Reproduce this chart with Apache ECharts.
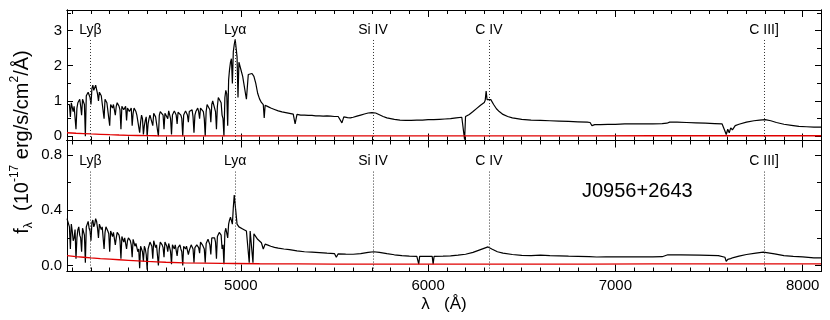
<!DOCTYPE html>
<html>
<head>
<meta charset="utf-8">
<style>
  html, body { margin: 0; padding: 0; background: #fff; }
  .chart { width: 830px; height: 320px; }
</style>
</head>
<body>
<div class="chart"></div>
<script src="https://cdn.jsdelivr.net/npm/echarts@6.0.0/dist/echarts.min.js"></script>
<script>
// Lyman forest part, wavelength grid (Å)
var forestWave = [4072, 4080, 4090, 4100, 4110, 4120, 4130, 4140, 4150, 4160,
  4170, 4180, 4190, 4200, 4210, 4220, 4230, 4240, 4250, 4260,
  4270, 4280, 4290, 4300, 4310, 4320, 4330, 4340, 4350, 4360,
  4370, 4380, 4390, 4400, 4410, 4420, 4430, 4440, 4450, 4460,
  4470, 4480, 4490, 4500, 4510, 4520, 4530, 4540, 4550, 4560,
  4570, 4580, 4590, 4600, 4610, 4620, 4630, 4640, 4650, 4660,
  4670, 4680, 4690, 4700, 4710, 4720, 4730, 4740, 4750, 4760,
  4770, 4780, 4790, 4800, 4810, 4820, 4830, 4840, 4850, 4860,
  4870, 4880, 4890, 4900, 4910, 4920, 4930, 4940, 4950];
var topForest = [0.9, 0.95, 0.55, 1.0, 0.85, 0.2, 0.95, 1.05, 0.6, 1.1,
  0.0, 1.2, 1.3, 0.9, 1.45, 1.35, 1.4, 1.0, 1.3, 1.2,
  0.5, 1.1, 1.0, 0.3, 0.95, 0.9, 0.6, 0.95, 0.85, 0.2,
  0.9, 0.8, 0.45, 0.85, 0.75, 0.3, 0.8, 0.7, 0.55, 0.1,
  0.6, 0.05, 0.45, 0.0, 0.5, 0.65, 0.3, 0.7, 0.6, 0.0,
  0.7, 0.65, 0.2, 0.7, 0.5, 0.7, 0.05, 0.65, 0.7, 0.35,
  0.7, 0.6, 0.0, 0.65, 0.7, 0.4, 0.65, 0.75, 0.1, 0.7,
  0.8, 0.5, 0.85, 0.7, 0.0, 0.9, 0.85, 0.4, 1.0, 0.95,
  0.2, 1.1, 1.05, 0.6, 0.0, 1.3, 0.3, 1.9, 2.2];
var botForest = [0.34, 0.35, 0.12, 0.25, 0.2, 0.05, 0.26, 0.22, 0.1, 0.28,
  0.02, 0.3, 0.27, 0.18, 0.33, 0.3, 0.32, 0.2, 0.3, 0.28,
  0.12, 0.28, 0.25, 0.1, 0.26, 0.24, 0.15, 0.24, 0.22, 0.05,
  0.22, 0.2, 0.12, 0.2, 0.18, 0.06, 0.18, 0.16, 0.1, -0.02,
  0.15, 0.03, 0.12, -0.03, 0.13, 0.16, 0.05, 0.17, 0.15, 0.0,
  0.17, 0.15, 0.06, 0.16, 0.1, 0.15, 0.01, 0.14, 0.15, 0.07,
  0.14, 0.12, 0.0, 0.13, 0.14, 0.08, 0.13, 0.14, 0.02, 0.14,
  0.15, 0.09, 0.16, 0.14, 0.02, 0.17, 0.18, 0.08, 0.19, 0.2,
  0.05, 0.22, 0.23, 0.12, 0.01, 0.27, 0.2, 0.33, 0.36];

// forest pixels in between (upper envelope of the forest)
var forestMidWave = [4085, 4095, 4105, 4115, 4125, 4135, 4145, 4155, 4165, 4175,
  4185, 4195, 4205, 4215, 4225, 4235, 4245, 4255, 4265, 4275,
  4285, 4295, 4305, 4315, 4325, 4335, 4345, 4355, 4365, 4375,
  4385, 4395, 4405, 4415, 4425, 4435, 4445, 4455, 4465, 4475,
  4485, 4495, 4505, 4515, 4525, 4535, 4545, 4555, 4565, 4575,
  4585, 4595, 4605, 4615, 4625, 4635, 4645, 4655, 4665, 4675,
  4685, 4695, 4705, 4715, 4725, 4735, 4745, 4755, 4765, 4775,
  4785, 4795, 4805, 4815, 4825, 4835, 4845, 4855, 4865, 4875,
  4885, 4895, 4905, 4915, 4925, 4935, 4945];
var topForestMid = [0.9, 0.95, 0.7, 0.9, 0.8, 1.0, 0.85, 1.05, 0.9, 1.15,
  1.25, 1.1, 1.35, 1.3, 1.45, 1.2, 1.25, 1.15, 1.1, 1.05,
  0.95, 1.0, 0.9, 0.8, 0.95, 0.85, 0.9, 0.75, 0.85, 0.75,
  0.85, 0.8, 0.7, 0.8, 0.65, 0.75, 0.6, 0.65, 0.4, 0.5,
  0.3, 0.55, 0.35, 0.6, 0.55, 0.65, 0.55, 0.5, 0.6, 0.72,
  0.6, 0.65, 0.6, 0.72, 0.5, 0.6, 0.72, 0.6, 0.68, 0.72,
  0.5, 0.6, 0.72, 0.6, 0.7, 0.68, 0.55, 0.6, 0.75, 0.7,
  0.8, 0.75, 0.5, 0.7, 0.95, 0.75, 0.9, 1.0, 0.7, 0.85,
  1.15, 0.95, 0.5, 1.1, 1.2, 1.6, 2.1];
var botForestMid = [0.28, 0.3, 0.18, 0.26, 0.2, 0.28, 0.2, 0.27, 0.22, 0.28,
  0.32, 0.25, 0.31, 0.28, 0.34, 0.27, 0.3, 0.26, 0.27, 0.24,
  0.27, 0.23, 0.25, 0.21, 0.25, 0.2, 0.23, 0.18, 0.21, 0.17,
  0.21, 0.18, 0.2, 0.15, 0.19, 0.14, 0.17, 0.12, 0.14, 0.1,
  0.14, 0.08, 0.12, 0.17, 0.14, 0.18, 0.13, 0.16, 0.12, 0.18,
  0.13, 0.17, 0.14, 0.16, 0.1, 0.15, 0.12, 0.16, 0.13, 0.15,
  0.1, 0.14, 0.12, 0.15, 0.11, 0.15, 0.12, 0.13, 0.15, 0.13,
  0.17, 0.15, 0.12, 0.16, 0.19, 0.15, 0.2, 0.21, 0.17, 0.21,
  0.24, 0.22, 0.15, 0.24, 0.28, 0.3, 0.35];

// redward of the forest, upper panel
var topRestWave = [4955, 4960, 4965, 4970, 4975, 4980, 4985, 4990, 5000, 5010,
  5020, 5030, 5040, 5050, 5060, 5070, 5080, 5090, 5100, 5110,
  5120, 5125, 5130, 5145, 5160, 5180, 5200, 5220, 5240, 5260,
  5280, 5290, 5300, 5320, 5340, 5360, 5380, 5400, 5420, 5440,
  5460, 5480, 5500, 5520, 5540, 5550, 5570, 5585, 5600, 5620,
  5640, 5660, 5680, 5700, 5720, 5740, 5760, 5780, 5800, 5820,
  5850, 5880, 5910, 5940, 5970, 6000, 6030, 6060, 6090, 6120,
  6150, 6180, 6190, 6195, 6200, 6220, 6240, 6260, 6280, 6300,
  6305, 6310, 6315, 6325, 6335, 6350, 6365, 6380, 6400, 6425,
  6450, 6500, 6550, 6600, 6650, 6700, 6750, 6800, 6850, 6865,
  6875, 6890, 6920, 6960, 7000, 7050, 7100, 7150, 7200, 7250,
  7275, 7290, 7330, 7380, 7430, 7480, 7530, 7570, 7585, 7592,
  7600, 7608, 7616, 7625, 7640, 7660, 7700, 7740, 7770, 7800,
  7830, 7860, 7900, 7940, 7980, 8020, 8060, 8098];
var topRestFlux = [1.5, 2.4, 2.6, 2.75, 2.5, 2.25, 1.1, 2.1, 1.9, 1.7,
  1.75, 1.05, 1.75, 1.8, 1.78, 1.7, 1.5, 1.22, 1.06, 0.96,
  0.9, 0.52, 0.88, 0.84, 0.8, 0.76, 0.72, 0.69, 0.67, 0.65,
  0.63, 0.35, 0.62, 0.6, 0.6, 0.59, 0.59, 0.58, 0.58, 0.57,
  0.58, 0.57, 0.56, 0.56, 0.38, 0.55, 0.53, 0.52, 0.54, 0.57,
  0.6, 0.63, 0.66, 0.67, 0.66, 0.61, 0.56, 0.52, 0.5, 0.48,
  0.46, 0.45, 0.45, 0.46, 0.46, 0.47, 0.47, 0.48, 0.49, 0.5,
  0.52, 0.54, 0.55, -0.1, 0.56, 0.62, 0.7, 0.79, 0.88, 0.96,
  1.02, 1.28, 1.04, 1.08, 1.04, 0.9, 0.78, 0.7, 0.62, 0.56,
  0.52, 0.48, 0.46, 0.45, 0.44, 0.43, 0.42, 0.41, 0.4, 0.39,
  0.3, 0.33, 0.33, 0.34, 0.34, 0.35, 0.35, 0.35, 0.35, 0.36,
  0.37, 0.4, 0.4, 0.39, 0.38, 0.37, 0.36, 0.35, 0.15, 0.05,
  0.2, 0.1, 0.24, 0.18, 0.3, 0.34, 0.4, 0.44, 0.46, 0.47,
  0.44, 0.39, 0.34, 0.31, 0.28, 0.27, 0.26, 0.26];

// redward of the forest, lower panel (J0956+2643)
var botRestWave = [4955, 4960, 4965, 4970, 4975, 4980, 4985, 4990, 5000, 5010,
  5020, 5030, 5040, 5045, 5050, 5055, 5060, 5065, 5070, 5080,
  5090, 5100, 5110, 5120, 5130, 5145, 5160, 5180, 5200, 5230,
  5260, 5300, 5340, 5380, 5420, 5460, 5500, 5510, 5520, 5560,
  5600, 5640, 5680, 5710, 5740, 5780, 5820, 5860, 5900, 5940,
  5950, 5955, 6000, 6022, 6027, 6032, 6080, 6120, 6160, 6200,
  6240, 6280, 6320, 6340, 6370, 6400, 6450, 6500, 6550, 6600,
  6650, 6700, 6750, 6800, 6860, 6870, 6900, 6950, 7000, 7100,
  7200, 7250, 7280, 7350, 7450, 7550, 7585, 7592, 7600, 7615,
  7630, 7660, 7700, 7750, 7790, 7850, 7900, 7950, 8000, 8060,
  8098];
var botRestFlux = [0.3, 0.42, 0.51, 0.44, 0.37, 0.3, 0.29, 0.28, 0.27, 0.265,
  0.26, 0.25, 0.25, 0.02, 0.25, 0.26, 0.25, 0.02, 0.23, 0.21,
  0.19, 0.18, 0.165, 0.12, 0.155, 0.148, 0.14, 0.132, 0.126, 0.12,
  0.115, 0.106, 0.1, 0.097, 0.094, 0.09, 0.087, 0.06, 0.085, 0.083,
  0.082, 0.086, 0.095, 0.1, 0.095, 0.086, 0.078, 0.072, 0.068, 0.066,
  0.01, 0.066, 0.066, 0.066, 0.01, 0.066, 0.068, 0.07, 0.075, 0.082,
  0.095, 0.115, 0.135, 0.12, 0.1, 0.09, 0.08, 0.073, 0.072, 0.075,
  0.072, 0.07, 0.068, 0.067, 0.065, 0.056, 0.062, 0.063, 0.063, 0.063,
  0.063, 0.064, 0.078, 0.078, 0.076, 0.072, 0.06, 0.03, 0.045, 0.05,
  0.058, 0.068, 0.08, 0.09, 0.097, 0.085, 0.072, 0.067, 0.063, 0.056,
  0.055];

// error spectra (red)
var errWave = [4072, 4120, 4160, 4200, 4250, 4300, 4350, 4400, 4450, 4500,
  4550, 4600, 4700, 4800, 4900, 4965, 4970, 4975, 5100, 5300,
  5500, 5570, 5575, 5580, 5800, 6000, 6200, 6305, 6310, 6315,
  6600, 6860, 7200, 7600, 8098];
var errTop = [0.1, 0.085, 0.075, 0.065, 0.055, 0.045, 0.036, 0.028, 0.022, 0.017,
  0.014, 0.012, 0.01, 0.01, 0.01, 0.01, 0.03, 0.01, 0.01, 0.01,
  0.01, 0.01, 0.06, 0.01, 0.01, 0.01, 0.01, 0.01, 0.04, 0.01,
  0.01, 0.012, 0.015, 0.015, 0.015];
var errBot = [0.072, 0.065, 0.06, 0.055, 0.05, 0.046, 0.042, 0.038, 0.034, 0.03,
  0.027, 0.024, 0.02, 0.018, 0.016, 0.015, 0.02, 0.015, 0.013, 0.012,
  0.011, 0.011, 0.02, 0.011, 0.011, 0.011, 0.011, 0.011, 0.018, 0.011,
  0.011, 0.011, 0.012, 0.012, 0.012];

// emission lines
var lineNames = ["Lyβ", "Lyα", "Si IV", "C IV", "C III]"];
var lineWaves = [4197, 4970, 5706, 6325, 7794];

// ticks
var xMajor = [5000, 6000, 7000, 8000];
var yMajorTop = [0, 1, 2, 3];
var yMinorTop = [0.5, 1.5, 2.5, 3.5];
var yMajorBot = [0, 0.4, 0.8];
var yMinorBot = [0.2, 0.6];

(function () {
  var myChart = echarts.init(document.querySelector(".chart"));
  var font = "Liberation Sans, Arial, Helvetica, sans-serif";
  var xMin = 4072, xMax = 8098;
  var xMinor = [];
  for (var w = 4100; w < xMax; w += 100) {
    if (w % 1000 !== 0) xMinor.push(w);
  }

  function pairs(xs, ys) {
    return xs.map(function (x, i) { return [x, ys[i]]; });
  }
  function byWave(a, b) { return a[0] - b[0]; }

  var topData = pairs(forestWave, topForest)
    .concat(pairs(forestMidWave, topForestMid)).sort(byWave)
    .concat(pairs(topRestWave, topRestFlux));
  var botData = pairs(forestWave, botForest)
    .concat(pairs(forestMidWave, botForestMid)).sort(byWave)
    .concat(pairs(botRestWave, botRestFlux));

  function xAxisOf(g, pos, ticks, len, withLabels) {
    var ax = {
      type: "value", gridIndex: g, position: pos, min: xMin, max: xMax,
      axisLine: { show: true, onZero: false, lineStyle: { color: "#000", width: 1 } },
      axisTick: { show: true, inside: true, length: len, customValues: ticks, lineStyle: { color: "#000" } },
      axisLabel: { show: false },
      splitLine: { show: false }
    };
    if (withLabels) {
      ax.axisLabel = {
        show: true, customValues: xMajor, color: "#000", fontSize: 15, fontFamily: font, margin: 7,
        formatter: function (v) { return String(v); }
      };
      ax.name = "λ   (Å)";
      ax.nameLocation = "middle";
      ax.nameGap = 24;
      ax.nameTextStyle = { color: "#000", fontSize: 17, fontFamily: font };
    }
    return ax;
  }

  function yAxisOf(g, pos, range, ticks, len, labels, digits) {
    var ax = {
      type: "value", gridIndex: g, position: pos, min: range[0], max: range[1],
      axisLine: { show: true, onZero: false, lineStyle: { color: "#000", width: 1 } },
      axisTick: { show: true, inside: true, length: len, customValues: ticks, lineStyle: { color: "#000" } },
      axisLabel: { show: false },
      splitLine: { show: false }
    };
    if (labels) {
      ax.axisLabel = {
        show: true, customValues: labels, color: "#000", fontSize: 15, fontFamily: font, margin: 5,
        formatter: function (v) { return v.toFixed(digits); }
      };
    }
    return ax;
  }

  var rangeTop = [-0.12, 3.58];
  var rangeBot = [-0.043, 0.905];

  function lineMarks(yStart, yEnd) {
    return {
      silent: true,
      symbol: ["none", "none"],
      animation: false,
      lineStyle: { color: "#333", type: [1, 2], width: 1 },
      label: { show: true, position: "start", formatter: "{b}", color: "#000", fontSize: 14, fontFamily: font, distance: 3 },
      data: lineNames.map(function (n, i) {
        return [{ name: n, coord: [lineWaves[i], yStart] }, { coord: [lineWaves[i], yEnd] }];
      })
    };
  }

  var option = {
    animation: false,
    grid: [
      { left: 67, right: 9, top: 10, height: 130.5, outerBoundsMode: "none" },
      { left: 67, right: 9, top: 140.5, height: 131, outerBoundsMode: "none" }
    ],
    xAxis: [
      xAxisOf(0, "bottom", xMajor, 7, false),
      xAxisOf(0, "bottom", xMinor, 4, false),
      xAxisOf(0, "top", xMajor, 7, false),
      xAxisOf(0, "top", xMinor, 4, false),
      xAxisOf(1, "bottom", xMajor, 7, true),
      xAxisOf(1, "bottom", xMinor, 4, false),
      xAxisOf(1, "top", xMajor, 7, false),
      xAxisOf(1, "top", xMinor, 4, false)
    ],
    yAxis: [
      yAxisOf(0, "left", rangeTop, yMajorTop, 6, yMajorTop, 0),
      yAxisOf(0, "left", rangeTop, yMinorTop, 4, null),
      yAxisOf(0, "right", rangeTop, yMajorTop, 6, null),
      yAxisOf(0, "right", rangeTop, yMinorTop, 4, null),
      yAxisOf(1, "left", rangeBot, yMajorBot, 6, yMajorBot, 1),
      yAxisOf(1, "left", rangeBot, yMinorBot, 4, null),
      yAxisOf(1, "right", rangeBot, yMajorBot, 6, null),
      yAxisOf(1, "right", rangeBot, yMinorBot, 4, null)
    ],
    series: [
      {
        type: "line", xAxisIndex: 0, yAxisIndex: 0, data: topData,
        symbol: "none", lineStyle: { color: "#000", width: 1.2 }, z: 3,
        markLine: lineMarks(2.73, rangeTop[0])
      },
      {
        type: "line", xAxisIndex: 0, yAxisIndex: 0,
        data: pairs(errWave, errTop),
        symbol: "none", lineStyle: { color: "#e00000", width: 1.3 }, z: 4
      },
      {
        type: "line", xAxisIndex: 4, yAxisIndex: 4, data: botData,
        symbol: "none", lineStyle: { color: "#000", width: 1.2 }, z: 3,
        markLine: lineMarks(0.68, rangeBot[0])
      },
      {
        type: "line", xAxisIndex: 4, yAxisIndex: 4,
        data: pairs(errWave, errBot),
        symbol: "none", lineStyle: { color: "#e00000", width: 1.3 }, z: 4
      }
    ],
    graphic: [
      {
        type: "text", left: 582, top: 181,
        style: { text: "J0956+2643", fill: "#000", font: "20px " + font }
      },
      {
        type: "text", x: 22, y: 142, rotation: Math.PI / 2,
        style: {
          text: "{n|f}{sub|λ}{n|  (10}{sup|-17}{n| erg/s/cm}{sup|2}{n|/Å)}",
          align: "center", verticalAlign: "middle", fill: "#000",
          rich: {
            n: { fontSize: 20, lineHeight: 26, fontFamily: font, fill: "#000" },
            sup: { fontSize: 12, lineHeight: 12, verticalAlign: "top", fontFamily: font, fill: "#000" },
            sub: { fontSize: 12, lineHeight: 12, verticalAlign: "bottom", fontFamily: font, fill: "#000" }
          }
        }
      }
    ]
  };
  myChart.setOption(option);
  window.addEventListener("resize", function () {
    myChart.resize();
  });
})();
</script>
</body>
</html>
